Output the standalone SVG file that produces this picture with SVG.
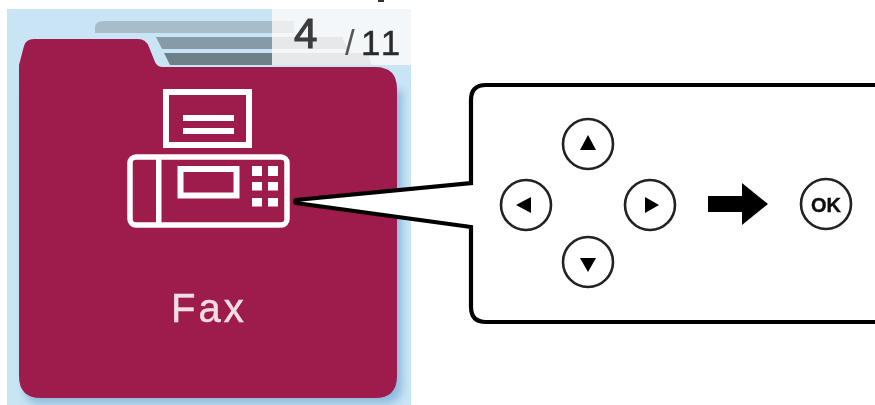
<svg xmlns="http://www.w3.org/2000/svg" width="875" height="405" viewBox="0 0 875 405">
<style>
.w{fill:none;stroke:#fff}
.k{fill:#fff;stroke:#222;stroke-width:2.600}
.g{fill:#000}
.t{font-family:"Liberation Sans",Arial,sans-serif}
</style>
<defs>
<filter id="b" x="-5%" y="-5%" width="110%" height="110%"><feGaussianBlur stdDeviation="0.65"/></filter>
<filter id="s" x="-5%" y="-5%" width="110%" height="110%"><feGaussianBlur stdDeviation="4"/></filter>
</defs>
<rect width="875" height="405" fill="#fff"/>
<g filter="url(#b)">
<rect x="378" y="0" width="6" height="2" fill="#333"/>
<g id="screen">
<rect x="7" y="9" width="404" height="396" fill="#c9e5f5"/>
<rect x="272" y="9" width="139" height="56" fill="#f4f7f9"/>
<path d="M105 21H272V33H95V27Q95 21 105 21Z" fill="#a7bdca"/>
<path d="M156 37H272V49H162Z" fill="#869ba7"/>
<path d="M164 53H272V65H170Z" fill="#6e8188"/>
<rect x="272" y="21" width="22" height="12" fill="#e9ebec"/>
<path d="M272 37H342L348 49H272Z" fill="#e6e8e9"/>
<path d="M272 53H368L372 65H272Z" fill="#e6e8e9"/>
<text class="t" x="294" y="48" font-size="42" fill="#3c3c3c" stroke="#3c3c3c" stroke-width="1.200">4</text>
<text class="t" x="345" y="55" font-size="35" fill="#555">/</text>
<text class="t" x="361" y="55" font-size="35" letter-spacing="3" fill="#2a2a2a" stroke="#2a2a2a" stroke-width="0.400">11</text>
</g>
<g id="folder">
<path d="M402 90V385Q402 404 384 404H40Q24 404 24 385V90Z" fill="#8fbadc" filter="url(#s)"/>
<path d="M40 39H138Q146 39 149 47L155 62Q157 67 163 67H375Q397 67 397 89V376Q397 398 375 398H41Q19 398 19 376V65L24 46Q26 39 34 39Z" fill="#9d1a4b"/>
<text class="t" x="171" y="322" font-size="40" letter-spacing="3" fill="#f3dde5" stroke="#f3dde5" stroke-width="0.500">Fax</text>
</g>
<g id="fax-icon">
<rect class="w" x="166" y="92" width="83" height="53" stroke-width="6"/>
<rect x="183" y="115" width="51" height="6" fill="#fff"/>
<rect x="183" y="128" width="51" height="6" fill="#fff"/>
<rect class="w" x="130" y="157" width="157" height="68" rx="6" stroke-width="5.500"/>
<rect x="156" y="157" width="5.500" height="68" fill="#fff"/>
<rect class="w" x="180.500" y="169" width="56" height="26.500" stroke-width="6"/>
<g fill="#fff">
<rect x="252" y="166" width="10" height="10"/><rect x="268" y="166" width="10" height="10"/>
<rect x="252" y="182" width="10" height="8.500"/><rect x="268" y="182" width="10" height="8.500"/>
<rect x="252" y="198" width="10" height="8.500"/><rect x="268" y="198" width="10" height="8.500"/>
</g>
</g>
<g id="callout">
<path d="M880 85H486Q471 85 471 100V183L296 200Q294 201.500 296 203L471 227V307Q471 322 486 322H880Z" fill="#fff" stroke="#000" stroke-width="4.200"/>
</g>
<g id="key-up"><circle class="k" cx="588" cy="144" r="25"/><path class="g" d="M588 135L596 150H580Z"/></g>
<g id="key-left"><circle class="k" cx="526" cy="205" r="25"/><path class="g" d="M516 205L531 197V213Z"/></g>
<g id="key-right"><circle class="k" cx="650" cy="205" r="25"/><path class="g" d="M659 205L645 197V213Z"/></g>
<g id="key-down"><circle class="k" cx="588" cy="262" r="25"/><path class="g" d="M588 272L580 258H596Z"/></g>
<g id="arrow"><path d="M708 196H742V183L768 204L742 225V212H708Z" fill="#000"/></g>
<g id="key-ok"><circle class="k" cx="826" cy="204" r="25"/><text class="t" x="826" y="212" font-size="20" font-weight="bold" text-anchor="middle" fill="#111" stroke="#111" stroke-width="0.400">OK</text></g>
</g>
</svg>
